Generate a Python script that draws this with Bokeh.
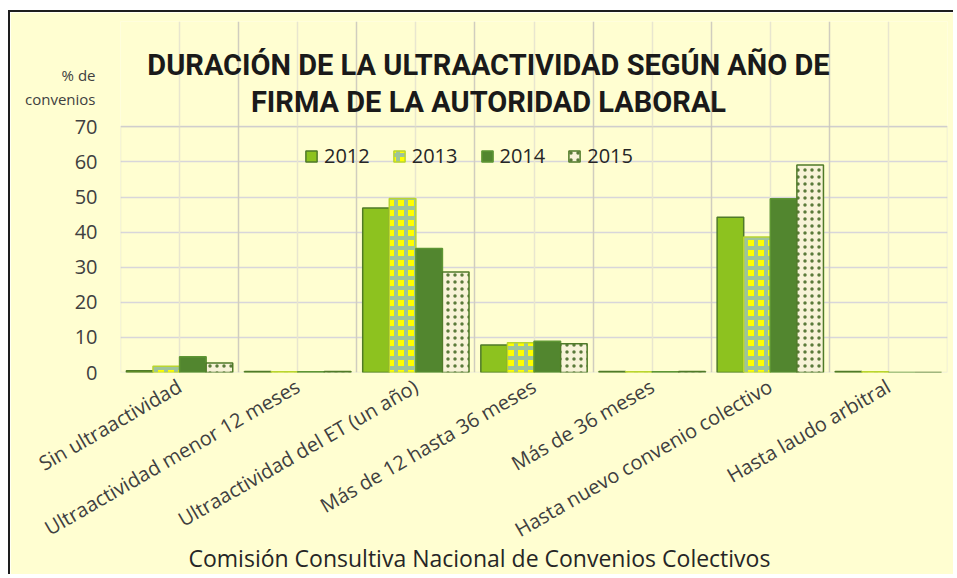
import math
from bokeh.plotting import figure
from bokeh.models import (ColumnDataSource, Range1d, FixedTicker, Grid, Title, Label,
                          Legend, LegendItem, LinearAxis, BoxAnnotation)
from bokeh.transform import dodge
from bokeh.embed import file_html
from bokeh.resources import INLINE

# ---------------- data ----------------
categories = [
    "Sin ultraactividad",
    "Ultraactividad menor 12 meses",
    "Ultraactividad del ET (un año)",
    "Más de 12 hasta 36 meses",
    "Más de 36 meses",
    "Hasta nuevo convenio colectivo",
    "Hasta laudo arbitral",
]
years = ["2012", "2013", "2014", "2015"]
v2012 = [0.5, 0.3, 46.9, 7.8, 0.3, 44.2, 0.3]
v2013 = [1.8, 0.2, 49.6, 8.5, 0.2, 38.6, 0.2]
v2014 = [4.5, 0.2, 35.3, 8.9, 0.2, 49.5, 0.0]
v2015 = [2.7, 0.3, 28.6, 8.2, 0.3, 59.1, 0.0]
y_ticks = [0, 10, 20, 30, 40, 50, 60, 70]

title_lines = ["DURACIÓN DE LA ULTRAACTIVIDAD SEGÚN AÑO DE",
               "FIRMA DE LA AUTORIDAD LABORAL"]
y_title_lines = ["% de", "convenios"]
source_text = "Comisión Consultiva Nacional de Convenios Colectivos"

# ---------------- figure ----------------
idx = list(range(len(categories)))
src = ColumnDataSource(dict(idx=idx, cat=categories,
                            y2012=v2012, y2013=v2013, y2014=v2014, y2015=v2015))

BG = "#FFFED1"
TXT = "#404040"
FONT = "Open Sans"
TFONT = "Roboto"
Y_TOP = 100  # room above the value axis for the chart title

x0, x1 = -0.5, len(categories) - 0.5
p = figure(width=945, height=564, output_backend="svg", toolbar_location=None,
           x_range=Range1d(x0, x1), y_range=Range1d(0, Y_TOP),
           min_border_left=110, min_border_top=9, min_border_right=8,
           min_border_bottom=204,
           background_fill_color=BG, border_fill_color=BG,
           outline_line_color=None,
           styles={"border-left": "2px solid #1e1e1e",
                   "border-top": "2px solid #1e1e1e",
                   "margin-top": "10px", "margin-left": "8px"})
p.title.visible = False

# grids (limited to the 0-70 value area)
p.xgrid.grid_line_color = None
p.ygrid.ticker = FixedTicker(ticks=y_ticks)
p.ygrid.grid_line_color = "#D8D6DA"
p.ygrid.grid_line_width = 1.5
p.add_layout(Grid(dimension=0, ticker=FixedTicker(ticks=idx),
                  bounds=(y_ticks[0], y_ticks[-1]),
                  grid_line_color="#E8E6CF", grid_line_width=1.5))
p.add_layout(Grid(dimension=0,
                  ticker=FixedTicker(ticks=[i - 0.5 for i in range(len(categories) + 1)]),
                  bounds=(y_ticks[0], y_ticks[-1]),
                  grid_line_color="#D0CDBF", grid_line_width=1.5))
p.add_layout(BoxAnnotation(left=x0, right=x1, bottom=y_ticks[0], top=y_ticks[-1],
                           fill_alpha=0, line_color="#BEBCAE", line_width=1.5,
                           level="underlay"))

bw = 0.225
offs = [-1.5 * bw, -0.5 * bw, 0.5 * bw, 1.5 * bw]
styles = [
    dict(fill_color="#8DC21F", line_color="#4F7A28"),
    dict(fill_color="#FFFF00", line_color="#B9D52F",
         hatch_pattern="cross", hatch_color="#9EC49A",
         hatch_scale=10, hatch_weight=4),
    dict(fill_color="#52862F", line_color="#5E9634"),
    dict(fill_color="#F8F3D8", line_color="#4F7A28",
         hatch_pattern="dot", hatch_color="#5A7A3A",
         hatch_scale=7, hatch_weight=1.5),
]
renderers = []
for yr, off, st in zip(years, offs, styles):
    r = p.vbar(x=dodge("idx", off, range=p.x_range), top="y" + yr, width=bw,
               bottom=0, source=src, line_width=1.5, **st)
    renderers.append(r)

legend = Legend(items=[LegendItem(label=yr, renderers=[r]) for yr, r in zip(years, renderers)],
                orientation="horizontal", location=(184, 203),
                background_fill_alpha=0, border_line_color=None,
                padding=3, margin=0, spacing=22, label_standoff=6,
                glyph_width=14, glyph_height=14, label_height=14,
                label_text_font=FONT, label_text_font_size="20px",
                label_text_color="#262626")
p.add_layout(legend)

# value axis
p.yaxis.ticker = FixedTicker(ticks=y_ticks)
p.yaxis.axis_line_color = None
p.yaxis.major_tick_line_color = None
p.yaxis.major_tick_out = 0
p.yaxis.minor_tick_line_color = None
p.yaxis.minor_tick_out = 0
p.yaxis.major_label_text_font = FONT
p.yaxis.major_label_text_font_size = "20px"
p.yaxis.major_label_text_color = TXT
p.yaxis.major_label_standoff = 23

# axis title "% de / convenios" (second left axis, two labelled ticks)
yt_pos = [84.9, 77.8]
yt_axis = LinearAxis(ticker=FixedTicker(ticks=yt_pos),
                     major_label_overrides={v: t for v, t in zip(yt_pos, y_title_lines)},
                     axis_line_color=None, major_tick_line_color=None,
                     minor_tick_line_color=None, major_tick_out=0, minor_tick_out=0,
                     major_label_standoff=-24,
                     major_label_text_font=FONT, major_label_text_font_size="15px",
                     major_label_text_color=TXT)
p.add_layout(yt_axis, "left")

# category axis
p.xaxis.ticker = FixedTicker(ticks=idx)
p.xaxis.major_label_overrides = {i: c for i, c in zip(idx, categories)}
p.xaxis.major_label_orientation = math.radians(30)
p.xaxis.axis_line_color = None
p.xaxis.major_tick_line_color = None
p.xaxis.minor_tick_line_color = None
p.xaxis.major_label_text_font = FONT
p.xaxis.major_label_text_font_size = "20px"
p.xaxis.major_label_text_color = TXT
p.xaxis.major_label_standoff = 6

# chart title (inside the extended plotting area)
cx = (488 - 120) / 118.14 - 0.5
for txt, yy in zip(title_lines, [87.65, 77.1]):
    p.add_layout(Label(x=cx, y=yy, text=txt, text_align="center",
                       text_baseline="alphabetic",
                       text_font=TFONT, text_font_style="bold",
                       text_font_size="29px", text_color="#1a1a1a"))

# source line below the category labels
p.add_layout(Title(text=source_text, align="left", offset=68, vertical_align="top",
                   text_font=FONT, text_font_style="normal",
                   text_font_size="23px", text_color="#262626", standoff=-31), "below")

open("out.html", "w").write(file_html(p, INLINE))
